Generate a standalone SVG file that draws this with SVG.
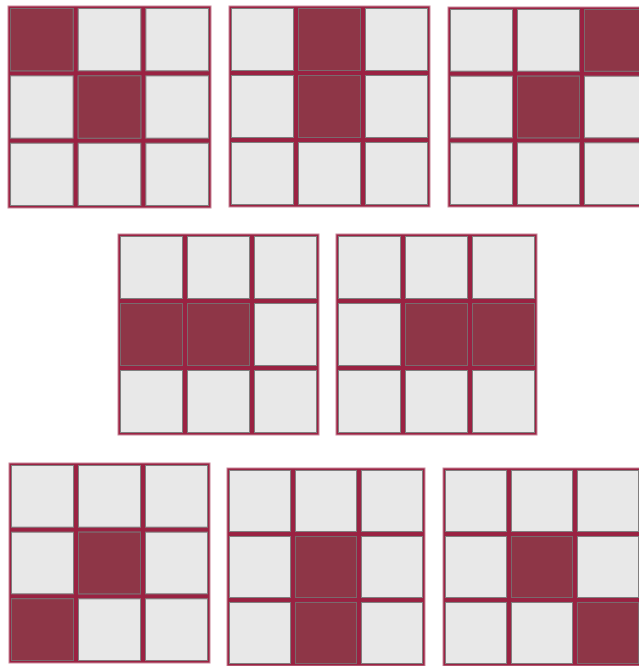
<svg xmlns="http://www.w3.org/2000/svg" xmlns:xlink="http://www.w3.org/1999/xlink" width="639" height="666" viewBox="0 0 639 666">
<style>
.bg{fill:#9a2242;stroke:#c98a9c;stroke-width:1}
.c{fill:#e8e8e8;stroke:#7f7f7f;stroke-width:1}
.d{fill:#8e3647;stroke:#7a6a6e;stroke-width:1}
</style>
<defs>
<g id="base">
<rect class="bg" x="0" y="0" width="201" height="201"/>
<rect class="c" x="2.5" y="2.5" width="62" height="62"/>
<rect class="c" x="69.5" y="2.5" width="62" height="62"/>
<rect class="c" x="136.5" y="2.5" width="62" height="62"/>
<rect class="c" x="2.5" y="69.5" width="62" height="62"/>
<rect class="c" x="69.5" y="69.5" width="62" height="62"/>
<rect class="c" x="136.5" y="69.5" width="62" height="62"/>
<rect class="c" x="2.5" y="136.5" width="62" height="62"/>
<rect class="c" x="69.5" y="136.5" width="62" height="62"/>
<rect class="c" x="136.5" y="136.5" width="62" height="62"/>
</g>
</defs>
<rect x="0" y="0" width="639" height="666" fill="#ffffff"/>
<g id="grid1" transform="translate(8,6) scale(1.01,1.005)">
<use xlink:href="#base" href="#base"/>
<rect class="d" x="2.5" y="2.5" width="62" height="62"/>
<rect class="d" x="69.5" y="69.5" width="62" height="62"/>
</g>
<g id="grid2" transform="translate(229,6)">
<use xlink:href="#base" href="#base"/>
<rect class="d" x="69.5" y="2.5" width="62" height="62"/>
<rect class="d" x="69.5" y="69.5" width="62" height="62"/>
</g>
<g id="grid3" transform="translate(448,7) scale(1,0.995)">
<use xlink:href="#base" href="#base"/>
<rect class="d" x="136.5" y="2.5" width="62" height="62"/>
<rect class="d" x="69.5" y="69.5" width="62" height="62"/>
</g>
<g id="grid4" transform="translate(118,234)">
<use xlink:href="#base" href="#base"/>
<rect class="d" x="2.5" y="69.5" width="62" height="62"/>
<rect class="d" x="69.5" y="69.5" width="62" height="62"/>
</g>
<g id="grid5" transform="translate(336,234)">
<use xlink:href="#base" href="#base"/>
<rect class="d" x="69.5" y="69.5" width="62" height="62"/>
<rect class="d" x="136.5" y="69.5" width="62" height="62"/>
</g>
<g id="grid6" transform="translate(9,463) scale(1,0.995)">
<use xlink:href="#base" href="#base"/>
<rect class="d" x="69.5" y="69.5" width="62" height="62"/>
<rect class="d" x="2.5" y="136.5" width="62" height="62"/>
</g>
<g id="grid7" transform="translate(227,468) scale(0.985)">
<use xlink:href="#base" href="#base"/>
<rect class="d" x="69.5" y="69.5" width="62" height="62"/>
<rect class="d" x="69.5" y="136.5" width="62" height="62"/>
</g>
<g id="grid8" transform="translate(443,468) scale(0.985)">
<use xlink:href="#base" href="#base"/>
<rect class="d" x="69.5" y="69.5" width="62" height="62"/>
<rect class="d" x="136.5" y="136.5" width="62" height="62"/>
</g>
<g id="connectors"/>
</svg>
